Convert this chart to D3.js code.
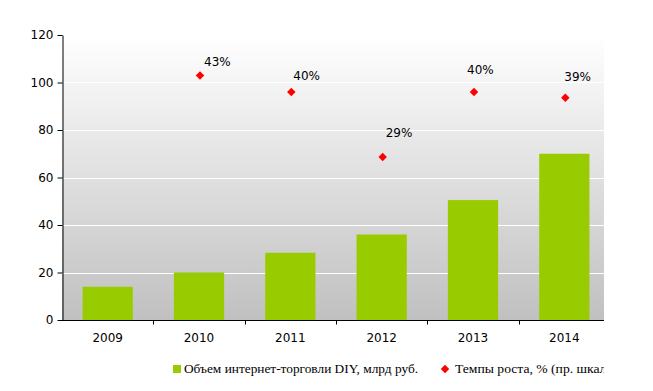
<!DOCTYPE html>
<html>
<head>
<meta charset="utf-8">
<script src="https://cdn.jsdelivr.net/npm/d3@7"></script>
<style>
	body { margin: 0; background: #fff; }
	svg { display: block; }
</style>
</head>
<body>
<div id="chart"></div>
<script>
// data
const years = ['2009', '2010', '2011', '2012', '2013', '2014'];
const volume = [14, 20, 28.3, 36, 50.5, 70];          // млрд руб., left scale
const growthYears = ['2010', '2011', '2012', '2013', '2014'];
const growth = [42.9, 40, 28.6, 40, 39];              // %, hidden right scale
const yTicks = [0, 20, 40, 60, 80, 100, 120];

// hand-placed label nudges (like the original, labels were dragged around)
const labelNudge = [[4, -14], [2, -16], [3, -24], [-7, -22], [-1, -21]];

const width = 653, height = 391;
const plot = {left: 62, right: 604, top: 35, bottom: 320};

const svg = d3.select('#chart').append('svg')
	.attr('width', width)
	.attr('height', height)
	.style('font-family', '"DejaVu Sans", Verdana, sans-serif');

const x = d3.scaleBand().domain(years).range([plot.left, 610]).padding(0);
const y = d3.scaleLinear().domain([0, 120]).range([plot.bottom, plot.top]);
const yRight = d3.scaleLinear().domain([0, 50]).range([plot.bottom, plot.top]);

// plot background gradient
const defs = svg.append('defs');
const grad = defs.append('linearGradient')
	.attr('id', 'bg').attr('x1', 0).attr('y1', 0).attr('x2', 0).attr('y2', 1);
grad.append('stop').attr('offset', '0%').attr('stop-color', '#ffffff');
grad.append('stop').attr('offset', '100%').attr('stop-color', '#c0c0c0');

defs.append('clipPath').attr('id', 'legclip')
	.append('rect').attr('x', 0).attr('y', 0).attr('width', plot.right).attr('height', height);

svg.append('rect')
	.attr('x', plot.left)
	.attr('y', plot.top)
	.attr('width', plot.right - plot.left)
	.attr('height', plot.bottom - plot.top)
	.attr('fill', 'url(#bg)');

// grid
svg.append('g')
	.selectAll('line')
	.data(yTicks.filter(d => d > 0 && d < 120))
	.enter().append('line')
	.attr('x1', plot.left)
	.attr('x2', plot.right)
	.attr('y1', d => Math.round(y(d)) + 0.5)
	.attr('y2', d => Math.round(y(d)) + 0.5)
	.attr('stroke', '#fff')
	.attr('stroke-width', 1);

// bars
const barW = x.bandwidth() * 0.55;
svg.append('g')
	.selectAll('rect')
	.data(years)
	.enter().append('rect')
	.attr('x', (d) => x(d) + x.bandwidth() / 2 - barW / 2)
	.attr('y', (d, i) => y(volume[i]))
	.attr('width', barW)
	.attr('height', (d, i) => y(0) - y(volume[i]))
	.attr('fill', '#99cc00');

// axes
const yAxis = svg.append('g')
	.attr('transform', `translate(${plot.left + 0.5},0)`)
	.call(d3.axisLeft(y).tickValues(yTicks).tickSize(5).tickSizeOuter(0));
yAxis.select('.domain').attr('stroke', '#000');
yAxis.selectAll('.tick line').attr('stroke', '#000');
yAxis.selectAll('.tick text')
	.attr('x', -9)
	.style('font-size', '12px')
	.style('font-family', '"DejaVu Sans", Verdana, sans-serif')
	.attr('fill', '#000');

const xAxis = svg.append('g')
	.attr('transform', `translate(0,${plot.bottom + 0.5})`);
xAxis.append('line')
	.attr('x1', plot.left).attr('x2', plot.right)
	.attr('stroke', '#000');
xAxis.selectAll('.xtick')
	.data(years.slice(1))
	.enter().append('line')
	.attr('class', 'xtick')
	.attr('x1', d => Math.round(x(d)) + 0.5)
	.attr('x2', d => Math.round(x(d)) + 0.5)
	.attr('y1', 0).attr('y2', 4)
	.attr('stroke', '#000');
xAxis.selectAll('text')
	.data(years)
	.enter().append('text')
	.attr('x', d => x(d) + x.bandwidth() / 2)
	.attr('y', 21)
	.style('text-anchor', 'middle')
	.style('font-size', '12px')
	.text(d => d);

// growth markers
const diamond = d3.symbol().type(d3.symbolSquare).size(36);
const pts = svg.append('g');
growthYears.forEach((yr, i) => {
	const cx = x(yr) + x.bandwidth() / 2 + 1;
	const cy = yRight(growth[i]);
	pts.append('path')
		.attr('d', diamond)
		.attr('transform', `translate(${cx},${cy}) rotate(45)`)
		.attr('fill', '#ff0000');
	pts.append('text')
		.attr('x', cx + labelNudge[i][0])
		.attr('y', cy + labelNudge[i][1])
		.attr('dy', '0.35em')
		.style('font-size', '12px')
		.text(d3.format('.0f')(growth[i]) + '%');
});

// legend
const legend = svg.append('g')
	.attr('clip-path', 'url(#legclip)')
	.style('font-family', '"Liberation Serif", "Times New Roman", serif')
	.style('font-size', '13px');

legend.append('rect')
	.attr('x', 173).attr('y', 365)
	.attr('width', 8).attr('height', 8)
	.attr('fill', '#99cc00');
legend.append('text')
	.attr('x', 184).attr('y', 373)
	.attr('textLength', 234)
	.attr('lengthAdjust', 'spacingAndGlyphs')
	.text('Объем интернет-торговли DIY, млрд руб.');

legend.append('path')
	.attr('d', diamond)
	.attr('transform', 'translate(445,369) rotate(45)')
	.attr('fill', '#ff0000');
legend.append('text')
	.attr('x', 455).attr('y', 373)
	.attr('textLength', 162)
	.attr('lengthAdjust', 'spacingAndGlyphs')
	.text('Темпы роста, % (пр. шкала)');
</script>
</body>
</html>
